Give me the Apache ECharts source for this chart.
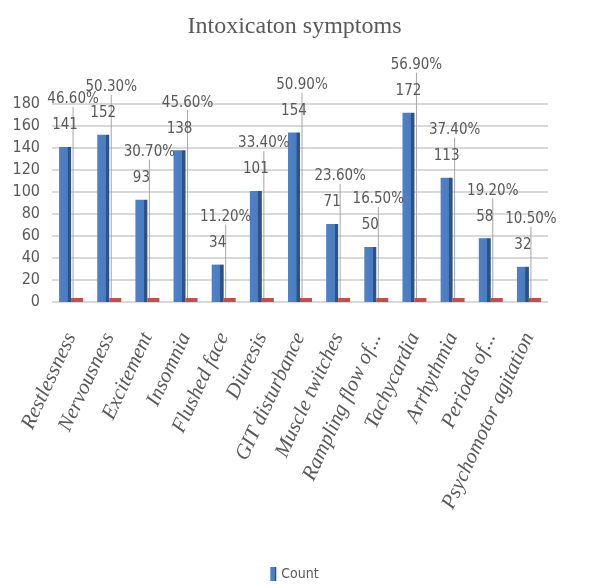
<!DOCTYPE html>
<html>
<head>
<meta charset="utf-8">
<script src="https://cdn.jsdelivr.net/npm/echarts@6/dist/echarts.min.js"></script>
<style>
  html, body { margin: 0; padding: 0; background: #fff; }
  #main { width: 589px; height: 588px; }
</style>
</head>
<body>
<div id="main"></div>
<script>
// symptom names as shown on the x axis
const symptoms = ['Restlessness', 'Nervousness', 'Excitement', 'Insomnia', 'Flushed face', 'Diuresis',
  'GIT disturbance', 'Muscle twitches', 'Rampling flow of...', 'Tachycardia', 'Arrhythmia',
  'Periods of...', 'Psychomotor agitation']
// number of patients per symptom
const counts = [141, 152, 93, 138, 34, 101, 154, 71, 50, 172, 113, 58, 32]
// share of patients (the tiny red series)
const shares = [0.466, 0.503, 0.307, 0.456, 0.112, 0.334, 0.509, 0.236, 0.165, 0.569, 0.374, 0.192, 0.105]
const yTicks = [0, 20, 40, 60, 80, 100, 120, 140, 160, 180]

const narrow = 'DejaVu Sans Condensed, sans-serif'
const chart = echarts.init(document.getElementById('main'))

const option = {
  animation: false,
  title: {
    text: 'Intoxicaton symptoms',
    left: 'center',
    top: 10,
    textStyle: { fontFamily: 'Liberation Serif, serif', fontSize: 24, fontWeight: 'normal', color: '#595959' }
  },
  legend: {
    data: ['Count'],
    bottom: 2,
    left: 'center',
    itemWidth: 6,
    itemHeight: 14,
    icon: 'rect',
    textStyle: { fontFamily: narrow, fontSize: 14, color: '#595959' }
  },
  grid: { left: 52, right: 41, top: 104, bottom: 286, containLabel: false },
  xAxis: {
    type: 'category',
    data: symptoms,
    axisLine: { show: false },
    axisTick: { show: false },
    axisLabel: {
      interval: 0,
      rotate: 65,
      margin: 32,
      fontFamily: 'Liberation Serif, serif',
      fontStyle: 'italic',
      fontSize: 21,
      color: '#595959'
    }
  },
  yAxis: {
    type: 'value',
    min: yTicks[0],
    max: yTicks[yTicks.length - 1],
    interval: 20,
    axisLine: { show: false },
    axisTick: { show: false },
    axisLabel: { margin: 12, fontFamily: narrow, fontSize: 16, color: '#595959' },
    splitLine: { lineStyle: { color: '#d9d9d9', width: 2 } }
  },
  series: [
    {
      name: 'Count',
      type: 'bar',
      data: counts,
      barWidth: 12,
      barGap: '0%',
      itemStyle: {
        color: {
          type: 'linear', x: 0, y: 0, x2: 1, y2: 0,
          colorStops: [
            { offset: 0, color: '#4f81c7' },
            { offset: 0.7, color: '#4a7cc0' },
            { offset: 0.72, color: '#2e5285' },
            { offset: 1, color: '#2e5285' }
          ]
        }
      },
      label: {
        show: true,
        position: 'top',
        distance: 14,
        fontFamily: narrow,
        fontSize: 15,
        color: '#595959'
      }
    },
    {
      name: 'Percent',
      type: 'bar',
      data: shares,
      barWidth: 12,
      barMinHeight: 4,
      itemStyle: { color: '#c0504d' },
      label: {
        show: true,
        position: 'top',
        fontFamily: narrow,
        fontSize: 15,
        color: '#595959',
        formatter: p => (p.value * 100).toFixed(2) + '%'
      },
      labelLine: { show: true, lineStyle: { color: '#a6a6a6', width: 1 } },
      labelLayout: function (p) {
        // put the percentage above the count label of the same category
        const yTop = chart.convertToPixel({ yAxisIndex: 0 }, counts[p.dataIndex])
        return {
          x: p.rect.x + p.rect.width / 2 - 4,
          y: yTop - 40,
          align: 'center',
          verticalAlign: 'bottom'
        }
      }
    }
  ]
}

chart.setOption(option)
</script>
</body>
</html>
